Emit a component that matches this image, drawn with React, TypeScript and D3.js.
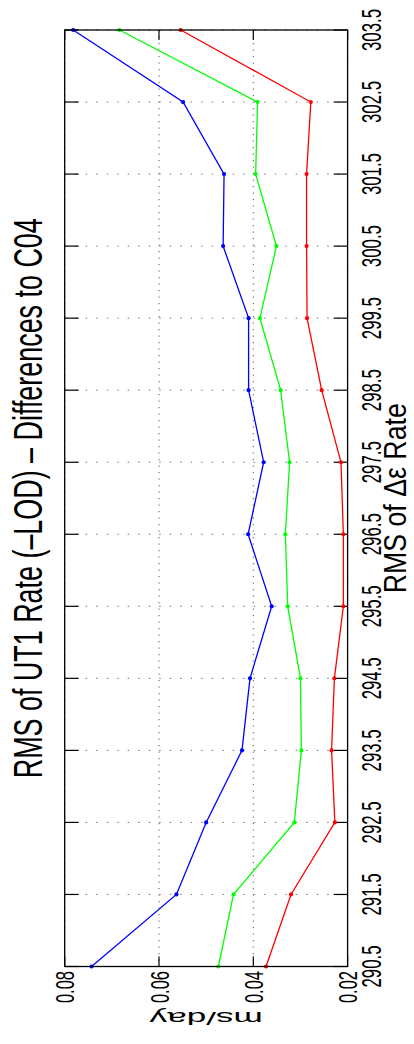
import React from "react";
import * as d3 from "d3";

// RMS of Δε rate (abscissa values)
const rmsDeRate = [290.5, 291.5, 292.5, 293.5, 294.5, 295.5, 296.5, 297.5, 298.5, 299.5, 300.5, 301.5, 302.5, 303.5];
const rateTickLabels = ["290.5", "291.5", "292.5", "293.5", "294.5", "295.5", "296.5", "297.5", "298.5", "299.5", "300.5", "301.5", "302.5", "303.5"];

// RMS of UT1 rate differences, ms/day
const blueSeries = [0.0743, 0.0563, 0.05, 0.0424, 0.0407, 0.0361, 0.0411, 0.0378, 0.041, 0.041, 0.0464, 0.0462, 0.0549, 0.0782];
const greenSeries = [0.0474, 0.0442, 0.0313, 0.0298, 0.03, 0.0327, 0.0332, 0.0323, 0.0342, 0.0386, 0.0351, 0.0395, 0.0391, 0.0684];
const redSeries = [0.0373, 0.032, 0.0227, 0.0234, 0.0228, 0.0209, 0.0209, 0.0214, 0.0255, 0.0286, 0.0287, 0.0287, 0.0278, 0.0554];

const valueTicks = [0.02, 0.04, 0.06, 0.08];
const valueTickLabels = ["0.02", "0.04", "0.06", "0.08"];

const titleText = "RMS of UT1 Rate (–LOD) – Differences to C04";
const rateAxisLabel = "RMS of Δε Rate";
const valueAxisLabel = "ms/day";

const W = 414;
const H = 1044;
const FONT = "'Liberation Sans', Arial, Helvetica, sans-serif";

// The figure is drawn turned a quarter turn: rate runs bottom→top, values right→left.
const box = { left: 64.7, right: 347.6, top: 30, bottom: 966.5 };

export default function App() {
  const rateScale = d3.scaleLinear().domain([290.5, 303.5]).range([box.bottom, box.top]);
  const valueScale = d3.scaleLinear().domain([0.02, 0.08]).range([box.right, box.left]);

  const lineGen = d3
    .line<[number, number]>()
    .x((d) => valueScale(d[1]))
    .y((d) => rateScale(d[0]));

  const series = [
    { color: "#0000ff", values: blueSeries },
    { color: "#00ff00", values: greenSeries },
    { color: "#ff0000", values: redSeries },
  ];

  const rateTicks = rmsDeRate;
  const midY = (box.top + box.bottom) / 2;

  return (
    <svg
      width={W}
      height={H}
      style={{ position: "absolute", left: 0, top: 0, background: "#fff" }}
      fontFamily={FONT}
    >
      <rect x={0} y={0} width={W} height={H} fill="#fff" />

      {/* grid */}
      {rateTicks.map((t, i) => (
        <line
          key={"gr" + i}
          x1={box.left}
          x2={box.right}
          y1={rateScale(t)}
          y2={rateScale(t)}
          stroke="#777"
          strokeWidth={1}
          strokeDasharray="1.5,9"
        />
      ))}
      {valueTicks.map((t, i) => (
        <line
          key={"gv" + i}
          x1={valueScale(t)}
          x2={valueScale(t)}
          y1={box.top}
          y2={box.bottom}
          stroke="#555"
          strokeWidth={1}
          strokeDasharray="1.2,5.3"
        />
      ))}

      {/* ticks */}
      {rateTicks.map((t, i) => (
        <g key={"tr" + i}>
          <line x1={box.left} x2={box.left + 14} y1={rateScale(t)} y2={rateScale(t)} stroke="#000" strokeWidth={1.2} />
          <line x1={box.right - 14} x2={box.right} y1={rateScale(t)} y2={rateScale(t)} stroke="#000" strokeWidth={1.2} />
        </g>
      ))}
      {valueTicks.map((t, i) => (
        <g key={"tv" + i}>
          <line x1={valueScale(t)} x2={valueScale(t)} y1={box.top} y2={box.top + 10} stroke="#000" strokeWidth={1.2} />
          <line x1={valueScale(t)} x2={valueScale(t)} y1={box.bottom - 10} y2={box.bottom} stroke="#000" strokeWidth={1.2} />
        </g>
      ))}

      {/* series */}
      {series.map((s, si) => {
        const pts: [number, number][] = rmsDeRate.map((r, i) => [r, s.values[i]]);
        return (
          <g key={"s" + si}>
            <path d={lineGen(pts) || ""} fill="none" stroke={s.color} strokeWidth={1.3} />
            {pts.map((p, i) => (
              <circle key={i} cx={valueScale(p[1])} cy={rateScale(p[0])} r={2.1} fill={s.color} />
            ))}
          </g>
        );
      })}

      {/* axes box */}
      <rect
        x={box.left}
        y={box.top}
        width={box.right - box.left}
        height={box.bottom - box.top}
        fill="none"
        stroke="#000"
        strokeWidth={1.3}
      />

      {/* rate tick labels */}
      {rateTicks.map((t, i) => (
        <text
          key={"lr" + i}
          transform={`translate(381,${rateScale(t)}) scale(1.6,1) rotate(-90)`}
          textAnchor="middle"
          fontSize={16.8}
          fill="#000"
        >
          {rateTickLabels[i]}
        </text>
      ))}

      {/* value tick labels */}
      {valueTicks.map((t, i) => (
        <text
          key={"lv" + i}
          transform={`translate(${valueScale(t) + 9.5},971) scale(1.6,1) rotate(-90)`}
          textAnchor="end"
          fontSize={16.5}
          fill="#000"
        >
          {valueTickLabels[i]}
        </text>
      ))}

      {/* title */}
      <text
        transform={`translate(42,${midY}) scale(1.48,1) rotate(-90)`}
        textAnchor="middle"
        fontSize={26.9}
        fill="#000"
      >
        {titleText}
      </text>

      {/* rate axis label */}
      <text
        transform={`translate(406,${midY}) scale(1.25,1) rotate(-90)`}
        textAnchor="middle"
        fontSize={25}
        textLength={190}
        lengthAdjust="spacingAndGlyphs"
        fill="#000"
      >
        {rateAxisLabel}
      </text>

      {/* value axis label */}
      <text
        transform={`translate(${(box.left + box.right) / 2},1012) scale(1.85,1) rotate(180)`}
        textAnchor="middle"
        fontSize={19}
        fill="#000"
      >
        {valueAxisLabel}
      </text>
    </svg>
  );
}
